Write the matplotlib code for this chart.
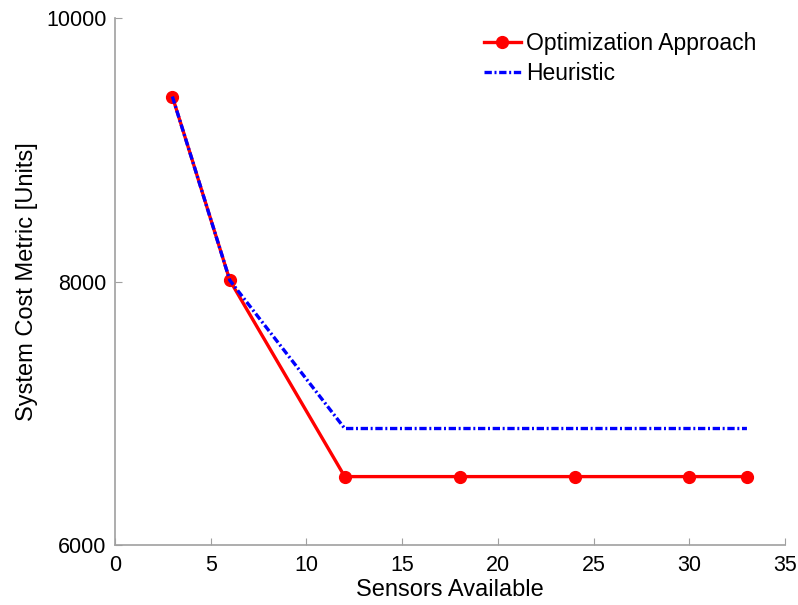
import matplotlib
matplotlib.use("Agg")
import matplotlib.pyplot as plt

plt.rcParams['font.family'] = ['Liberation Sans', 'DejaVu Sans']

sensors_opt = [3, 6, 12, 18, 24, 30, 33]
cost_opt = [9405, 8010, 6520, 6520, 6520, 6520, 6520]
sensors_heur = [3, 6, 12, 33]
cost_heur = [9405, 8010, 6885, 6885]

xticks = [0, 5, 10, 15, 20, 25, 30, 35]
yticks = [6000, 8000, 10000]

fig = plt.figure(figsize=(7.98, 6.05), dpi=100)
ax = fig.add_axes([0.144, 0.099, 0.840, 0.871])

ax.plot(sensors_opt, cost_opt, color='red', lw=2.4, marker='o', ms=8.5,
        markerfacecolor='red', markeredgecolor='red', label='Optimization Approach', zorder=2)
ax.plot(sensors_heur, cost_heur, color='blue', lw=2.4, dashes=(2.2, 0.8, 0.6, 0.8),
        label='Heuristic', zorder=3)

ax.set_xlim(0, 35)
ax.set_ylim(6000, 10000)
ax.set_xticks(xticks)
ax.set_yticks(yticks)

for s in ['top', 'right']:
    ax.spines[s].set_visible(False)
for s in ['left', 'bottom']:
    ax.spines[s].set_color('#a0a0a0')
    ax.spines[s].set_linewidth(1.2)

ax.tick_params(axis='x', direction='in', length=5, color='#a0a0a0', labelsize=15.5, pad=7)
ax.tick_params(axis='y', direction='in', length=5, color='#a0a0a0', labelsize=15.5, pad=6)

ax.set_xlabel('Sensors Available', fontsize=17, labelpad=2)
ax.set_ylabel('System Cost Metric [Units]', fontsize=17, labelpad=6)

leg = ax.legend(loc='upper left', frameon=False, fontsize=16.5, handlelength=1.6,
                handletextpad=0.25, labelspacing=0.3, borderpad=0, borderaxespad=0,
                bbox_to_anchor=(484 / 798, 1 - 32 / 605), bbox_transform=fig.transFigure)

fig.savefig('out.png', dpi=100)
